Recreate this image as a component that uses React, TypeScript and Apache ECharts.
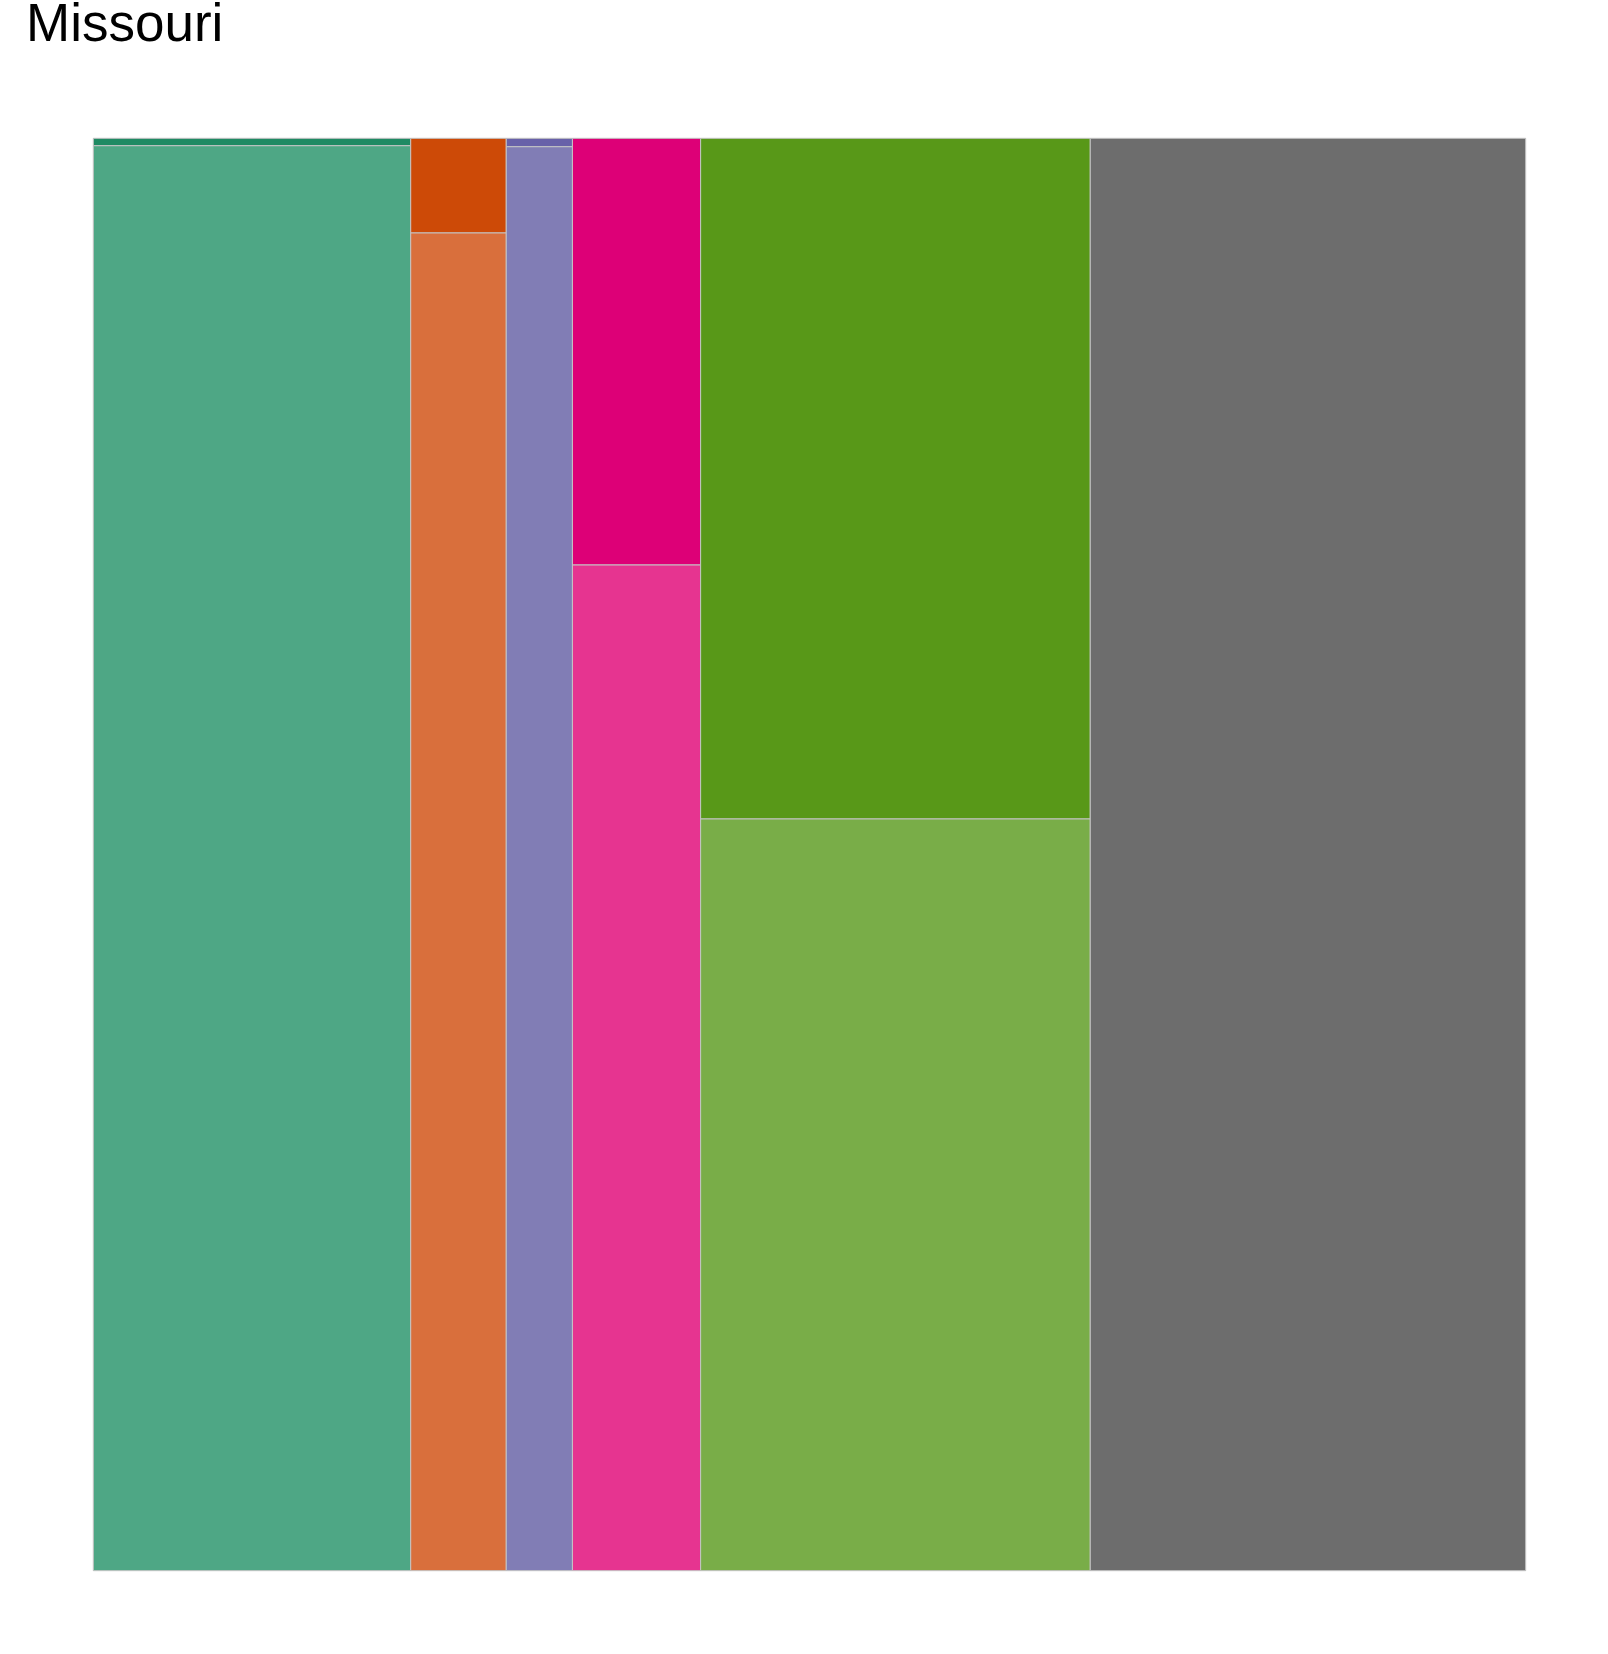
import React, { useEffect, useRef } from "react";
import * as echarts from "echarts";

const title = "Missouri";
const columns = ["A", "B", "C", "D", "E", "F"];
const columnShares = [0.2216, 0.0667, 0.0462, 0.0895, 0.272, 0.304];
const topShares = [0.0052, 0.0661, 0.0059, 0.2979, 0.4752, 1.0];
const topColors = ["#1f8a63", "#cd4a07", "#6861a9", "#dd0077", "#589818", "#6d6d6d"];
const bottomColors = ["#4ea785", "#d96f3c", "#817db5", "#e63490", "#79ad48", "#6d6d6d"];

export default function App() {
  const ref = useRef<HTMLDivElement>(null);
  useEffect(() => {
    if (!ref.current) return;
    const chart = echarts.init(ref.current, null, { renderer: "svg" });
    const data: any[] = [];
    let x = 0;
    columns.forEach((c, i) => {
      const x0 = x;
      const x1 = x + columnShares[i];
      x = x1;
      const split = 1 - topShares[i];
      data.push({ value: [x0, x1, split, 1], itemStyle: { color: topColors[i] } });
      if (split > 0) {
        data.push({ value: [x0, x1, 0, split], itemStyle: { color: bottomColors[i] } });
      }
    });
    chart.setOption({
      animation: false,
      backgroundColor: "#ffffff",
      graphic: [
        {
          type: "text",
          x: 26,
          y: 22,
          style: {
            text: title,
            fontSize: 53,
            fontFamily: "Liberation Sans, Arial, sans-serif",
            fill: "#000000",
            verticalAlign: "middle",
          },
        },
      ],
      grid: { left: 93.3, top: 138.3, width: 1432.4, height: 1432.4 },
      xAxis: { type: "value", min: 0, max: 1, show: false },
      yAxis: { type: "value", min: 0, max: 1, show: false },
      series: [
        {
          type: "custom",
          data,
          renderItem: (params: any, api: any) => {
            const p0 = api.coord([api.value(0), api.value(3)]);
            const p1 = api.coord([api.value(1), api.value(2)]);
            return {
              type: "rect",
              shape: { x: p0[0], y: p0[1], width: p1[0] - p0[0], height: p1[1] - p0[1] },
              style: { fill: api.visual("color"), stroke: "#c4c4c4", lineWidth: 1 },
            };
          },
        },
      ],
    });
    return () => chart.dispose();
  }, []);
  return (
    <div
      ref={ref}
      style={{ position: "absolute", left: 0, top: 0, width: 1608, height: 1654 }}
    />
  );
}
